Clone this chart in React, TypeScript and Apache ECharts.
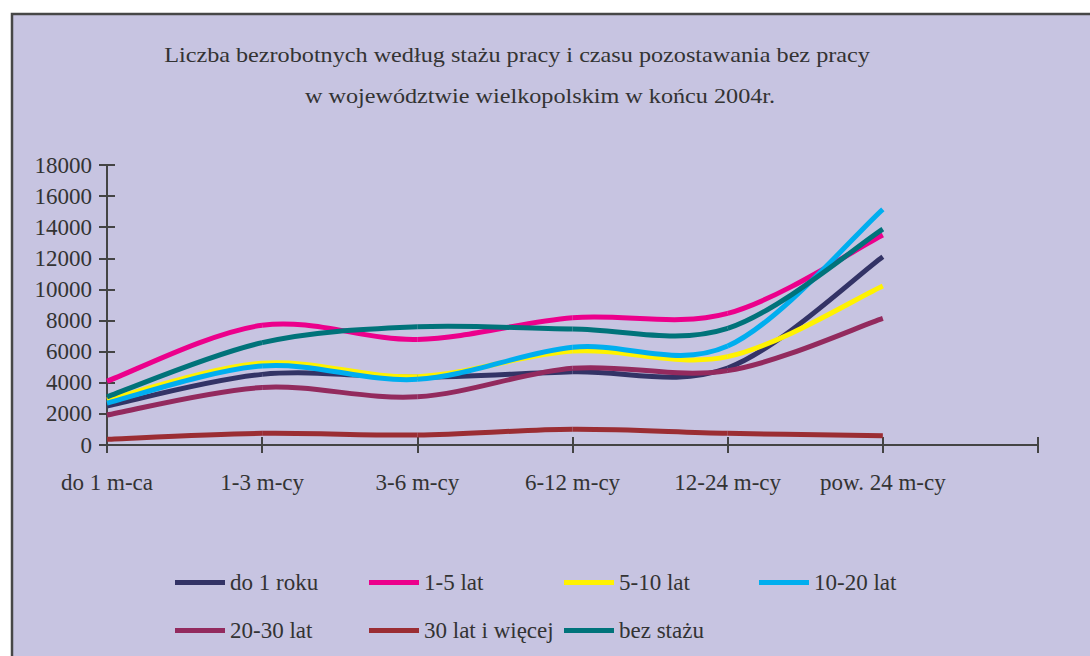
import React, { useEffect, useRef } from "react";
import * as echarts from "echarts";

const categories = ["do 1 m-ca", "1-3 m-cy", "3-6 m-cy", "6-12 m-cy", "12-24 m-cy", "pow. 24 m-cy", ""];
const yTicks = { min: 0, max: 18000, interval: 2000 };

const seriesNames = ["do 1 roku", "1-5 lat", "5-10 lat", "10-20 lat", "20-30 lat", "30 lat i więcej", "bez stażu"];
const do1roku = [2500, 4540, 4350, 4710, 4950, 12100];
const lat1_5 = [4100, 7700, 6790, 8180, 8460, 13500];
const lat5_10 = [2900, 5250, 4390, 6040, 5680, 10220];
const lat10_20 = [2700, 5080, 4220, 6280, 6360, 15150];
const lat20_30 = [1930, 3700, 3100, 4930, 4780, 8140];
const lat30plus = [370, 750, 640, 1010, 750, 600];
const bezStazu = [3100, 6580, 7600, 7460, 7500, 13880];
const seriesValues = [do1roku, lat1_5, lat5_10, lat10_20, lat20_30, lat30plus, bezStazu];
const seriesColors = ["#333366", "#ec008c", "#fff200", "#00aeef", "#932a5e", "#9b2d33", "#00737a"];

const titleLine1 = "Liczba bezrobotnych według stażu pracy i czasu pozostawania bez pracy";
const titleLine2 = "w województwie wielkopolskim w końcu 2004r.";

const FONT = "'Liberation Serif', 'Times New Roman', serif";
const TXT = "#333333";

// Smooth (Excel-like) curve segment between point i and i+1, mapped through the axes.
function makeRenderItem(values: number[], color: string) {
  return (params: any, api: any) => {
    const i = params.dataIndex;
    if (i >= values.length - 1) return { type: "group", children: [] };
    const pt = (k: number) => {
      const kk = Math.max(0, Math.min(values.length - 1, k));
      return api.coord([kk, values[kk]]);
    };
    const p0 = pt(i - 1);
    const p1 = pt(i);
    const p2 = pt(i + 1);
    const p3 = pt(i + 2);
    const t = 1 / 6;
    const c1 = [p1[0] + (p2[0] - p0[0]) * t, p1[1] + (p2[1] - p0[1]) * t];
    const c2 = [p2[0] - (p3[0] - p1[0]) * t, p2[1] - (p3[1] - p1[1]) * t];
    return {
      type: "bezierCurve",
      shape: {
        x1: p1[0], y1: p1[1],
        cpx1: c1[0], cpy1: c1[1],
        cpx2: c2[0], cpy2: c2[1],
        x2: p2[0], y2: p2[1],
      },
      style: { stroke: color, fill: "none", lineWidth: 5, lineCap: "butt" },
    };
  };
}

export default function App() {
  const ref = useRef<HTMLDivElement>(null);
  useEffect(() => {
    if (!ref.current) return;
    const chart = echarts.init(ref.current, undefined, { renderer: "svg" });
    const legendPos = [
      [175, 571], [369, 571], [564, 571], [759, 571],
      [175, 619], [369, 619], [564, 619],
    ];
    chart.setOption({
      animation: false,
      backgroundColor: "#ffffff",
      textStyle: { fontFamily: FONT },
      graphic: [
        {
          type: "rect",
          z: -100,
          shape: { x: 12, y: 14, width: 1100, height: 700 },
          style: { fill: "#c7c4e1", stroke: "#474747", lineWidth: 2.5 },
        },
        {
          type: "text",
          x: 517,
          y: 54,
          scaleX: 1.1,
          style: {
            text: titleLine1,
            font: `22px ${FONT}`,
            fill: TXT,
            textAlign: "center",
            textVerticalAlign: "middle",
          },
        },
        {
          type: "text",
          x: 540,
          y: 95,
          scaleX: 1.1,
          style: {
            text: titleLine2,
            font: `22px ${FONT}`,
            fill: TXT,
            textAlign: "center",
            textVerticalAlign: "middle",
          },
        },
      ],
      legend: seriesNames.map((n, i) => ({
        data: [n],
        left: legendPos[i][0],
        top: legendPos[i][1],
        padding: 0,
        icon: "rect",
        itemWidth: 50,
        itemHeight: 5,
        textStyle: { fontSize: 23, color: TXT, fontFamily: FONT },
      })),
      grid: { left: 107, right: 52, top: 165, bottom: 211 },
      xAxis: [
        {
          type: "category",
          data: categories,
          boundaryGap: false,
          axisLine: { lineStyle: { color: "#444444", width: 2 } },
          axisTick: { length: 8, lineStyle: { color: "#444444", width: 2 } },
          axisLabel: { fontSize: 23, color: TXT, margin: 26, fontFamily: FONT, interval: 0 },
          splitLine: { show: false },
        },
        {
          type: "category",
          data: categories,
          boundaryGap: false,
          position: "bottom",
          axisLine: { show: false },
          axisTick: { inside: true, length: 8, lineStyle: { color: "#444444", width: 2 } },
          axisLabel: { show: false },
          splitLine: { show: false },
        },
      ],
      yAxis: [
        {
          type: "value",
          min: yTicks.min,
          max: yTicks.max,
          interval: yTicks.interval,
          axisLine: { show: true, lineStyle: { color: "#444444", width: 2 } },
          axisTick: { show: true, length: 8, lineStyle: { color: "#444444", width: 2 } },
          axisLabel: {
            fontSize: 23,
            color: TXT,
            margin: 15,
            fontFamily: FONT,
            formatter: (v: number) => String(v),
          },
          splitLine: { show: false },
        },
        {
          type: "value",
          min: yTicks.min,
          max: yTicks.max,
          interval: yTicks.interval,
          position: "left",
          axisLine: { show: false },
          axisTick: { show: true, inside: true, length: 8, lineStyle: { color: "#444444", width: 2 } },
          axisLabel: { show: false },
          splitLine: { show: false },
        },
      ],
      series: seriesNames.map((n, i) => ({
        name: n,
        type: "custom",
        data: seriesValues[i].map((v, k) => [k, v]),
        encode: { x: 0, y: 1 },
        itemStyle: { color: seriesColors[i] },
        renderItem: makeRenderItem(seriesValues[i], seriesColors[i]),
        z: 2 + i,
      })),
    });
    return () => chart.dispose();
  }, []);
  return (
    <div
      ref={ref}
      style={{ position: "fixed", left: 0, top: 0, width: 1090, height: 656 }}
    />
  );
}
